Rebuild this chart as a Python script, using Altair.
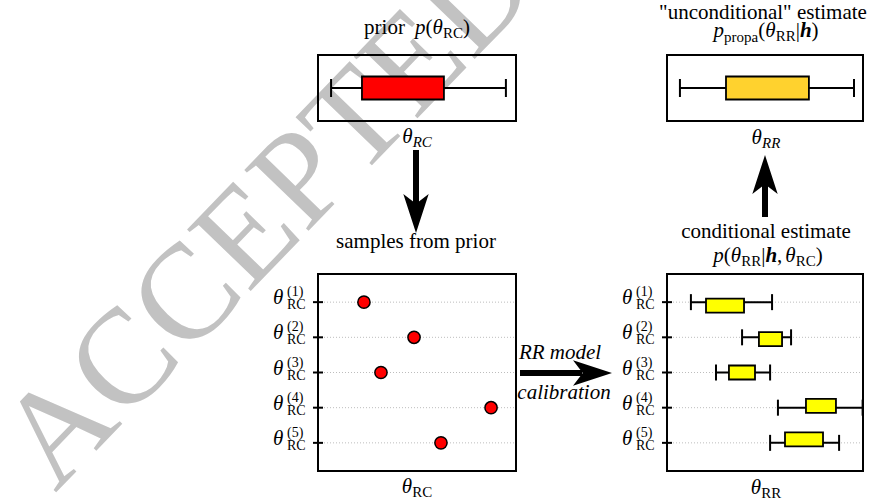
import altair as alt
import pandas as pd

# ---------------- data ----------------
row_ids = [1, 2, 3, 4, 5]
row_sup = ["(1)", "(2)", "(3)", "(4)", "(5)"]
samples_rc = [2.32, 4.85, 3.18, 8.74, 6.21]          # samples drawn from the prior
prior_stats = [0.66, 2.22, 6.36, 9.49]               # whisker lo, q1, q3, whisker hi
propa_stats = [0.66, 3.01, 7.24, 9.54]
cond_lo = [1.22, 3.83, 2.50, 5.66, 5.26]
cond_q1 = [1.99, 4.69, 3.16, 7.09, 6.02]
cond_q3 = [3.93, 5.87, 4.49, 8.62, 7.96]
cond_hi = [5.36, 6.33, 5.26, 9.98, 8.78]

FONT = "Liberation Serif, Times New Roman, DejaVu Serif, serif"

# ---------------- layout ----------------
LX = [318, 516]
RX = [667, 863]
TOPY = [55, 121]
BOTY = [274, 471]
XDOM = [0, 10]
TDOM = [0, 1]
RDOM = [0.2, 5.8]


def sc(dom, rng):
    return alt.Scale(domain=dom, range=rng, zero=False, nice=False)


layers = []

# watermark
wm = pd.DataFrame({"x": [268], "y": [214], "t": ["ACCEPTED"]})
layers.append(alt.Chart(wm).mark_text(font=FONT, fontSize=135, fill="#c2c2c2", strokeWidth=0,
                                      angle=314, align="center", baseline="middle").encode(
    x=alt.X("x:Q", scale=None, axis=None), y=alt.Y("y:Q", scale=None, axis=None), text="t:N"))


def frame(xdom, ydom, xr, yr):
    df = pd.DataFrame({"x0": [xdom[0]], "x1": [xdom[1]], "y0": [ydom[0]], "y1": [ydom[1]]})
    return alt.Chart(df).mark_rect(fillOpacity=0, stroke="black", strokeWidth=2).encode(
        x=alt.X("x0:Q", scale=sc(xdom, xr), axis=None), x2="x1:Q",
        y=alt.Y("y0:Q", scale=sc(ydom, yr), axis=None), y2="y1:Q")


def boxplot(df, sx, sy, fill, box_h, cap_h):
    base = alt.Chart(df)
    X = lambda f: alt.X(f, scale=sx, axis=None)
    Y = alt.Y("row:Q", scale=sy, axis=None)
    out = [
        base.mark_rule(color="black", strokeWidth=2).encode(x=X("lo:Q"), x2="hi:Q", y=Y),
        base.mark_tick(orient="vertical", size=cap_h, thickness=2, color="black", opacity=1).encode(x=X("lo:Q"), y=Y),
        base.mark_tick(orient="vertical", size=cap_h, thickness=2, color="black", opacity=1).encode(x=X("hi:Q"), y=Y),
        base.mark_bar(orient="horizontal", size=box_h, fill=fill, stroke="black", strokeWidth=1.8).encode(
            x=X("q1:Q"), x2="q3:Q", y=Y),
    ]
    return out


def rows_decor(xdom, xr, sub):
    sx = sc(xdom, xr)
    sy = sc(RDOM, BOTY)
    df = pd.DataFrame({"row": row_ids, "sup": row_sup, "x0": xdom[0], "x1": xdom[1],
                       "th": "θ", "sub": sub})
    base = alt.Chart(df)
    X = alt.X("x0:Q", scale=sx, axis=None)
    Y = alt.Y("row:Q", scale=sy, axis=None)
    return [
        base.mark_rule(color="#bdbdbd", strokeWidth=1, strokeDash=[1, 2]).encode(x=X, x2="x1:Q", y=Y),
        base.mark_tick(orient="horizontal", size=10, thickness=2, color="black", opacity=1).encode(x=X, y=Y),
        base.mark_text(font=FONT, fontSize=21, fontStyle="italic", align="left", baseline="alphabetic",
                       dx=-45, dy=2).encode(x=X, y=Y, text="th:N"),
        base.mark_text(font=FONT, fontSize=14, align="left", baseline="alphabetic",
                       dx=-31, dy=-6).encode(x=X, y=Y, text="sup:N"),
        base.mark_text(font=FONT, fontSize=14, align="left", baseline="alphabetic",
                       dx=-31, dy=7).encode(x=X, y=Y, text="sub:N"),
    ]


# ---- top-left: prior ----
layers.append(frame(XDOM, TDOM, LX, TOPY))
prior_df = pd.DataFrame({"row": [0.5], "lo": [prior_stats[0]], "q1": [prior_stats[1]],
                         "q3": [prior_stats[2]], "hi": [prior_stats[3]]})
layers += boxplot(prior_df, sc(XDOM, LX), sc(TDOM, TOPY), "#ff0000", 23, 18)

# ---- top-right: propagated ----
layers.append(frame(XDOM, TDOM, RX, TOPY))
propa_df = pd.DataFrame({"row": [0.5], "lo": [propa_stats[0]], "q1": [propa_stats[1]],
                         "q3": [propa_stats[2]], "hi": [propa_stats[3]]})
layers += boxplot(propa_df, sc(XDOM, RX), sc(TDOM, TOPY), "#ffd22e", 23, 18)

# ---- bottom-left: samples ----
layers += rows_decor(XDOM, LX, "RC")
layers.append(frame(XDOM, RDOM, LX, BOTY))
samp_df = pd.DataFrame({"row": row_ids, "v": samples_rc})
layers.append(alt.Chart(samp_df).mark_circle(size=150, color="#ff0000", stroke="black",
                                             strokeWidth=1.5, opacity=1).encode(
    x=alt.X("v:Q", scale=sc(XDOM, LX), axis=None), y=alt.Y("row:Q", scale=sc(RDOM, BOTY), axis=None)))

# ---- bottom-right: conditional estimates ----
layers += rows_decor(XDOM, RX, "RC")
layers.append(frame(XDOM, RDOM, RX, BOTY))
cond_df = pd.DataFrame({"row": row_ids, "lo": cond_lo, "q1": cond_q1, "q3": cond_q3, "hi": cond_hi})
layers += boxplot(cond_df, sc(XDOM, RX), sc(RDOM, BOTY), "#ffff00", 14, 16)

# ---- arrows ----
shafts = pd.DataFrame({"x": [416, 765, 520], "y": [150, 217, 373],
                       "x2": [416, 765, 582], "y2": [206, 184, 373]})
layers.append(alt.Chart(shafts).mark_rule(color="black", strokeWidth=6, strokeCap="butt").encode(
    x=alt.X("x:Q", scale=None, axis=None), y=alt.Y("y:Q", scale=None, axis=None),
    x2="x2:Q", y2="y2:Q"))
heads = pd.DataFrame({"x": [416, 765, 592.5], "y": [213.5, 174.5, 373], "a": [90, 270, 0]})
layers.append(alt.Chart(heads).mark_point(shape="M1,0L-1,-0.65L-0.5,0L-1,0.65Z", filled=True,
                                          color="black", size=1521, opacity=1, strokeWidth=0).encode(
    x=alt.X("x:Q", scale=None, axis=None), y=alt.Y("y:Q", scale=None, axis=None),
    angle=alt.Angle("a:Q", scale=None)))

# ---------------- text with math pieces ----------------
W_ROMAN = {' ': .25, '(': .333, ')': .333, '|': .2, ',': .25, '"': .408, 'a': .444, 'b': .5,
           'c': .444, 'd': .5, 'e': .444, 'f': .333, 'g': .5, 'h': .5, 'i': .278, 'l': .278,
           'm': .778, 'n': .5, 'o': .5, 'p': .5, 'r': .333, 's': .389, 't': .278, 'u': .5,
           'R': .667, 'C': .667}
W_ITAL = {' ': .25, 'p': .5, 'h': .5, 'θ': .5, 'R': .611, 'C': .667, 'm': .722, 'o': .5, 'd': .5,
          'e': .444, 'l': .278, 'c': .444, 'a': .5, 'i': .278, 'b': .5, 'r': .389, 't': .278, 'n': .5}

pieces = []


def seg(t, s=21, st="normal", wt="normal", dy=0, gap=0):
    return dict(t=t, s=s, st=st, wt=wt, dy=dy, gap=gap)


def width(p):
    tab = W_ITAL if p["st"] == "italic" else W_ROMAN
    w = sum(tab.get(ch, 0.5) for ch in p["t"]) * p["s"]
    if p["wt"] == "bold":
        w *= 1.1
    return w + p["gap"]


def place(cx, base, segs):
    total = sum(width(p) for p in segs)
    x = cx - total / 2
    for p in segs:
        x += p["gap"]
        if p["t"]:
            pieces.append(dict(x=x, y=base + p["dy"], t=p["t"], s=p["s"], st=p["st"], wt=p["wt"]))
        x += width(p) - p["gap"]


I = "italic"
place(417, 34, [seg("prior"), seg("p", st=I, gap=10), seg("("), seg("θ", st=I),
                seg("RC", 15, dy=4), seg(")")])
place(417, 143, [seg("θ", st=I), seg("RC", 15, st=I, dy=4)])
place(763, 19, [seg('"unconditional" estimate')])
place(766, 37, [seg("p", st=I), seg("propa", 15, dy=5), seg("("), seg("θ", st=I),
                seg("RR", 15, dy=4), seg("|"), seg("h", st=I, wt="bold"), seg(")")])
place(766, 144, [seg("θ", st=I), seg("RR", 15, st=I, dy=4)])
place(416, 248, [seg("samples from prior")])
place(766, 238, [seg("conditional estimate")])
place(768, 262, [seg("p", st=I), seg("("), seg("θ", st=I), seg("RR", 15, dy=4), seg("|"),
                 seg("h", st=I, wt="bold"), seg(","), seg("θ", st=I, gap=3), seg("RC", 15, dy=4),
                 seg(")")])
place(417, 493, [seg("θ", st=I), seg("RC", 15, dy=4)])
place(766, 494, [seg("θ", st=I), seg("RR", 15, dy=4)])
place(560, 359, [seg("RR model", st=I)])
place(564, 399, [seg("calibration", st=I)])

pdf = pd.DataFrame(pieces)
for (st, wt), g in pdf.groupby(["st", "wt"]):
    layers.append(alt.Chart(g.reset_index(drop=True)).mark_text(
        font=FONT, fontStyle=st, fontWeight=wt, align="left", baseline="alphabetic", color="black").encode(
        x=alt.X("x:Q", scale=None, axis=None), y=alt.Y("y:Q", scale=None, axis=None),
        text="t:N", size=alt.Size("s:Q", scale=None)))

chart = alt.layer(*layers).resolve_scale(
    x="independent", y="independent", size="independent", angle="independent"
).properties(
    width=870, height=501, padding=0, background="white",
    autosize=alt.AutoSizeParams(type="none"),
).configure_view(stroke=None)

chart.save("out.html", embed_options={"renderer": "svg", "actions": False})
